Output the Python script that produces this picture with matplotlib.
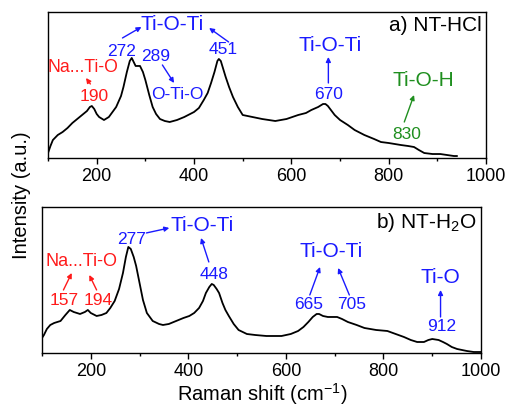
import matplotlib
matplotlib.use("Agg")
import matplotlib.pyplot as plt
from matplotlib.ticker import MultipleLocator

plt.rcParams["font.family"] = ["Liberation Sans", "DejaVu Sans"]
plt.rcParams["mathtext.fontset"] = "custom"
plt.rcParams["mathtext.rm"] = "Liberation Sans"

# spectra (intensity in arbitrary units)
hcl_shift = [100, 105, 110, 120, 130, 140, 150, 160, 170, 180, 186, 190, 195, 200, 205, 215,
             225, 240, 250, 255, 262, 268, 272, 276, 280, 285, 289, 295, 300, 308, 315, 322,
             330, 340, 350, 365, 380, 400, 410, 420, 428, 435, 442, 448, 451, 455, 460, 465,
             472, 480, 490, 500, 520, 540, 567, 590, 614, 630, 641, 655, 665, 670, 675, 689,
             700, 716, 730, 750, 770, 784, 800, 825, 840, 852, 862, 873, 890, 906, 920, 934, 940]
hcl_int = [5, 12, 18, 23, 26, 30, 35, 39, 43, 47, 51, 52, 49, 44, 41, 38,
           41, 51, 62, 71, 86, 97, 100, 96, 92, 92, 92, 86, 78, 63, 51, 44,
           39, 37, 36, 38, 41, 46, 50, 58, 65, 75, 86, 97, 99, 97, 89, 81,
           71, 61, 51, 43, 41, 39, 37, 39, 43, 45, 48, 51, 54, 54, 52, 43,
           38, 33, 28, 23, 19, 16, 15, 13, 12, 11, 8, 5, 4, 4, 3, 2, 2]

h2o_shift = [100, 104, 110, 117, 125, 138, 148, 157, 165, 178, 188, 194, 200, 212, 222, 232,
             240, 249, 258, 266, 272, 277, 282, 288, 293, 300, 307, 315, 327, 340, 348, 360,
             375, 390, 402, 412, 422, 430, 436, 443, 448, 452, 458, 463, 470, 476, 483, 493,
             503, 520, 537, 560, 591, 610, 625, 636, 646, 655, 663, 668, 676, 686, 697, 705,
             715, 727, 745, 761, 785, 808, 825, 842, 856, 869, 883, 892, 900, 913, 922, 930,
             940, 951, 961, 971, 985, 1000]
h2o_int = [15, 18, 24, 28, 30, 32, 38, 43, 41, 39, 41, 43, 40, 37, 38, 40,
           45, 52, 64, 80, 96, 106, 104, 96, 87, 70, 53, 40, 32, 29, 28, 29,
           32, 35, 37, 40, 45, 52, 60, 66, 69, 68, 64, 60, 50, 43, 37, 29,
           23, 19, 18, 17, 17, 19, 22, 26, 31, 36, 39, 39, 37, 36, 36, 36,
           34, 31, 28, 25, 23, 22, 19, 16, 13, 11, 11, 13, 14, 13, 11, 9,
           6, 4, 3, 2, 1, 1]

blue = "#1a1aff"
red = "#ff1a1a"
green = "#1f8f1f"

fig = plt.figure(figsize=(5.07, 4.08), dpi=100)
ax1 = fig.add_axes([0.0947, 0.6127, 0.864, 0.358])
ax2 = fig.add_axes([0.0828, 0.1348, 0.866, 0.358])

for ax, x, y in [(ax1, hcl_shift, hcl_int), (ax2, h2o_shift, h2o_int)]:
    ax.plot(x, y, color="black", lw=1.3)
    ax.set_xlim(100, 1000)
    ax.set_ylim(0, 146)
    ax.set_yticks([])
    ax.xaxis.set_major_locator(MultipleLocator(200))
    ax.xaxis.set_minor_locator(MultipleLocator(100))
    ax.tick_params(axis="x", which="major", direction="out", length=4, width=1,
                   labelsize=13, pad=3.5)
    ax.tick_params(axis="x", which="minor", direction="out", length=2.5, width=1)
    for s in ax.spines.values():
        s.set_linewidth(1)
ax1.set_xticks([200, 400, 600, 800, 1000])
ax2.set_xticks([200, 400, 600, 800, 1000])

arr = dict(arrowstyle="-|>", lw=1, mutation_scale=7, shrinkA=0, shrinkB=0)


def note(ax, text, xy, color, size=12):
    ax.text(xy[0], xy[1], text, color=color, fontsize=size, ha="center", va="center")


def arrow(ax, start, end, color):
    ax.annotate("", xy=end, xytext=start, arrowprops=dict(arr, color=color))


# panel a
ax1.text(992, 132, "a) NT-HCl", fontsize=15, ha="right", va="center")
note(ax1, "Ti-O-Ti", (355, 133), blue, 15)
note(ax1, "272", (252, 106), blue, 12.5)
arrow(ax1, (253, 120), (292, 131), blue)
arrow(ax1, (471, 116), (431, 130), blue)
note(ax1, "451", (459, 108), blue, 12.5)
note(ax1, "289", (322, 101), blue, 12.5)
arrow(ax1, (335, 93), (359, 75), blue)
note(ax1, "O-Ti-O", (366, 63), blue, 12.5)
note(ax1, "Na...Ti-O", (172, 90), red, 12.7)
note(ax1, "190", (194, 61), red, 12.5)
arrow(ax1, (187, 74), (178, 80), red)
note(ax1, "Ti-O-Ti", (679, 112), blue, 15)
arrow(ax1, (676, 75), (676, 101), blue)
note(ax1, "670", (676, 63), blue, 12.5)
note(ax1, "Ti-O-H", (871, 77), green, 15)
arrow(ax1, (832, 36), (852, 63), green)
note(ax1, "830", (837, 24), green, 12.5)

# panel b
ax2.text(991, 130, "b) NT-H$_2$O", fontsize=15, ha="right", va="center")
note(ax2, "Na...Ti-O", (182, 91), red, 13)
note(ax2, "157", (146, 52), red, 12.5)
note(ax2, "194", (215, 52), red, 12.5)
arrow(ax2, (144, 63), (161, 80), red)
arrow(ax2, (212, 63), (197, 78), red)
note(ax2, "277", (283, 113), blue, 12.5)
arrow(ax2, (314, 120), (361, 125), blue)
note(ax2, "Ti-O-Ti", (429, 127), blue, 15)
arrow(ax2, (442, 91), (426, 115), blue)
note(ax2, "448", (453, 78), blue, 12.5)
note(ax2, "Ti-O-Ti", (693, 101), blue, 15)
note(ax2, "665", (646, 48), blue, 12.5)
note(ax2, "705", (734, 48), blue, 12.5)
arrow(ax2, (649, 58), (670, 86), blue)
arrow(ax2, (730, 58), (707, 85), blue)
note(ax2, "Ti-O", (917, 75), blue, 15)
arrow(ax2, (917, 36), (917, 63), blue)
note(ax2, "912", (920, 26), blue, 12.5)

fig.text(0.042, 0.522, "Intensity (a.u.)", rotation=90, fontsize=14.5, ha="center", va="center")
fig.text(0.518, 0.018, "Raman shift (cm$^{-1}$)", fontsize=14.5, ha="center", va="baseline")

fig.savefig("out.png", dpi=100)
